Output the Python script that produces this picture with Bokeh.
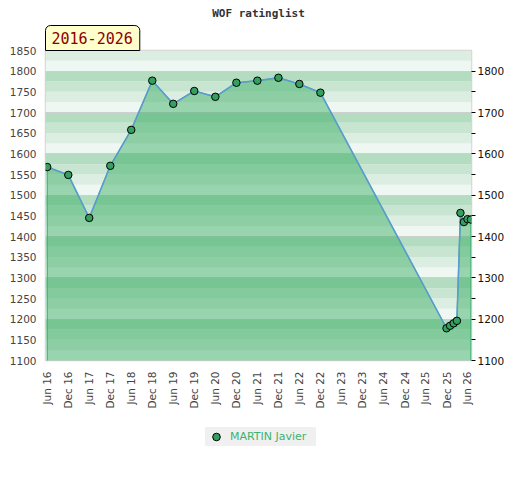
import math
import pandas as pd
from bokeh.plotting import figure
from bokeh.layouts import column
from bokeh.models import (Range1d, FixedTicker, LinearAxis, DatetimeTickFormatter,
                          BoxAnnotation, Title, Legend, LegendItem, ColumnDataSource)
from bokeh.embed import file_html
from bokeh.resources import INLINE

# ---- data ----
dates = ["2016-06-01", "2016-12-01", "2017-06-01", "2017-12-01", "2018-06-01",
         "2018-12-01", "2019-06-01", "2019-12-01", "2020-06-01", "2020-12-01",
         "2021-06-01", "2021-12-01", "2022-06-01", "2022-12-01",
         "2025-12-01", "2026-01-01", "2026-02-01", "2026-03-01", "2026-04-01",
         "2026-05-01", "2026-06-01", "2026-07-01"]
ratings = [1568, 1549, 1445, 1571, 1658, 1777, 1721, 1752, 1738, 1772,
           1777, 1784, 1769, 1748,
           1178, 1184, 1190, 1196, 1457, 1435, 1442, 1441]
player = "MARTIN Javier"
title_text = "WOF ratinglist"
period_text = "2016-2026"

x_tick_dates = ["2016-06-01", "2016-12-01", "2017-06-01", "2017-12-01", "2018-06-01",
                "2018-12-01", "2019-06-01", "2019-12-01", "2020-06-01", "2020-12-01",
                "2021-06-01", "2021-12-01", "2022-06-01", "2022-12-01", "2023-06-01",
                "2023-12-01", "2024-06-01", "2024-12-01", "2025-06-01", "2025-12-01",
                "2026-06-01"]
x_tick_labels = ["Jun 16", "Dec 16", "Jun 17", "Dec 17", "Jun 18", "Dec 18", "Jun 19",
                 "Dec 19", "Jun 20", "Dec 20", "Jun 21", "Dec 21", "Jun 22", "Dec 22",
                 "Jun 23", "Dec 23", "Jun 24", "Dec 24", "Jun 25", "Dec 25", "Jun 26"]
left_ticks = [1100, 1150, 1200, 1250, 1300, 1350, 1400, 1450, 1500, 1550, 1600,
              1650, 1700, 1750, 1800, 1850]
right_ticks = [1100, 1200, 1300, 1400, 1500, 1600, 1700, 1800]
right_minor = [1150, 1250, 1350, 1450, 1550, 1650, 1750]
band_edges = list(range(1100, 1875, 25))
band_colors = ["#eff7f2", "#dcede2", "#c8e5d1", "#b3dcc0"]
y_min, y_max = 1100, 1850
x_start, x_end = "2016-05-17", "2026-07-06"
area_base = 1000

# ---- main figure ----
dts = pd.to_datetime(dates)
src = ColumnDataSource(dict(x=dts, y=ratings))
poly_x = list(dts) + [dts[-1], dts[0]]
poly_y = ratings + [area_base, area_base]

fig = figure(frame_width=426, frame_height=310, x_axis_type="datetime",
             x_range=Range1d(pd.Timestamp(x_start), pd.Timestamp(x_end)),
             y_range=Range1d(y_min, y_max), title=None,
             output_backend="svg", toolbar_location=None,
             min_border_left=45, min_border_right=33, min_border_top=50,
             min_border_bottom=56)
fig.background_fill_color = "white"
fig.border_fill_color = "white"
fig.outline_line_color = "#d4d4d4"
fig.outline_line_width = 1.5

# period box (closest to frame) and main title
period = Title(text=period_text, align="left", text_font="DejaVu Sans Mono",
               text_font_size="15px", text_font_style="normal",
               text_color="#8b0000", background_fill_color="#ffffcc",
               border_line_color="black", border_line_width=1,
               padding=(6, 7, 6, 7), border_radius=(5, 5, 0, 0),
               standoff=0, offset=0)
fig.add_layout(period, "above")
main_title = Title(text=title_text, align="center", text_font="DejaVu Sans Mono",
                   text_font_style="bold", text_font_size="11px",
                   text_color="#333333", standoff=8)
fig.add_layout(main_title, "above")

# bands
for i in range(len(band_edges) - 1):
    lo, hi = band_edges[i], band_edges[i + 1]
    col = band_colors[((lo - band_edges[0]) // 25) % 4]
    fig.add_layout(BoxAnnotation(bottom=lo, top=hi, fill_color=col, fill_alpha=1,
                                 line_color=None, level="image"))

# grids
fig.xgrid.visible = False
fig.ygrid.ticker = FixedTicker(ticks=right_ticks)
fig.ygrid.grid_line_color = "#cfcfcf"
fig.ygrid.grid_line_width = 1

# area + line + points
fig.patch(poly_x, poly_y, fill_color="#2ea85a", fill_alpha=0.45,
          line_color="#3cb371", line_width=1.2)
fig.line("x", "y", source=src, line_color="#5b9bd5", line_width=1.5)
fig.scatter("x", "y", source=src, size=7.5, fill_color="#33a05f",
            line_color="black", line_width=1)

# x axis
xa = fig.xaxis[0]
xa.ticker = FixedTicker(ticks=[pd.Timestamp(d).value / 1e6 for d in x_tick_dates])
xa.formatter = DatetimeTickFormatter(days="%b %y", months="%b %y", years="%b %y")
xa.major_label_overrides = {pd.Timestamp(d).value / 1e6: lab
                            for d, lab in zip(x_tick_dates, x_tick_labels)}
xa.major_label_orientation = math.pi / 2
xa.major_tick_out = 0
xa.major_tick_in = 0
xa.minor_tick_out = 0
xa.minor_tick_in = 0
xa.axis_line_color = None
xa.major_label_standoff = 11
xa.major_label_text_font = "DejaVu Sans"
xa.major_label_text_font_size = "10.5px"
xa.major_label_text_color = "#444444"

# left axis
ya = fig.yaxis[0]
ya.ticker = FixedTicker(ticks=left_ticks)
ya.major_tick_out = 0
ya.major_tick_in = 0
ya.minor_tick_out = 0
ya.minor_tick_in = 0
ya.axis_line_color = None
ya.major_label_standoff = 9
ya.major_label_text_font = "DejaVu Sans"
ya.major_label_text_font_size = "10.5px"
ya.major_label_text_color = "#444444"

# right axis
ra = LinearAxis(ticker=FixedTicker(ticks=right_ticks, minor_ticks=right_minor))
ra.major_tick_out = 4
ra.major_tick_in = 0
ra.minor_tick_out = 4
ra.minor_tick_in = 0
ra.major_tick_line_color = "black"
ra.minor_tick_line_color = "black"
ra.axis_line_color = None
ra.major_label_standoff = 2
ra.major_label_text_font = "DejaVu Sans"
ra.major_label_text_font_size = "10.5px"
ra.major_label_text_color = "#111111"
fig.add_layout(ra, "right")

# ---- legend strip (second small figure under the chart) ----
leg_fig = figure(width=504, height=48, x_range=Range1d(0, 1), y_range=Range1d(0, 1),
                 output_backend="svg", toolbar_location=None,
                 x_axis_location=None, y_axis_location=None,
                 min_border_left=0, min_border_right=0, min_border_top=0,
                 min_border_bottom=0)
leg_fig.xgrid.visible = False
leg_fig.ygrid.visible = False
leg_fig.outline_line_color = None
leg_fig.background_fill_color = "white"
leg_fig.border_fill_color = "white"
leg_pts = leg_fig.scatter("x", "y", source=src, size=7.5, fill_color="#33a05f",
                          line_color="black", line_width=1)
legend = Legend(items=[LegendItem(label=player, renderers=[leg_pts])],
                orientation="horizontal", location=(160, 18),
                background_fill_color="#f0f0f0", background_fill_alpha=1,
                border_line_color=None, label_text_color="#3cb371",
                label_text_font="DejaVu Sans", label_text_font_size="11px",
                glyph_width=22, glyph_height=19, label_height=19,
                label_width=86, padding=0, label_standoff=3, margin=0)
leg_fig.add_layout(legend)

p = column(fig, leg_fig)
open("out.html", "w").write(file_html(p, INLINE))
